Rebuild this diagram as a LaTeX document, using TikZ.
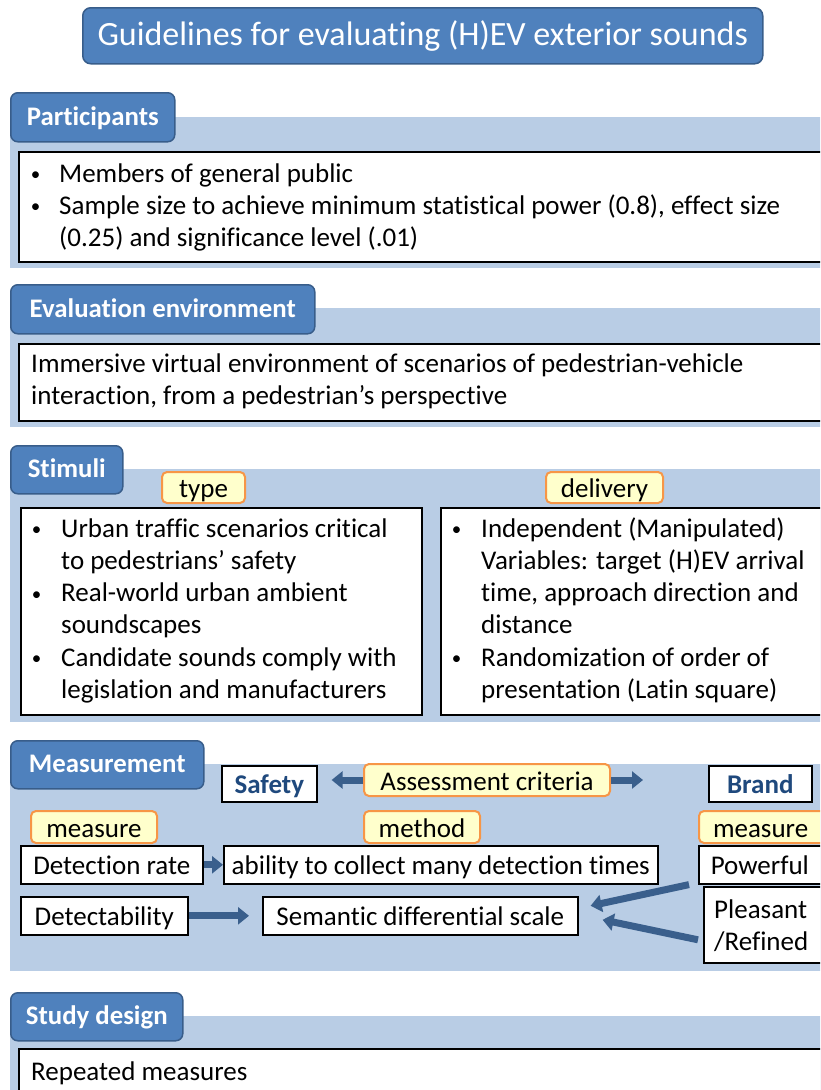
\documentclass[tikz,border=0pt]{standalone}
\usepackage{fontspec}
\setmainfont{Carlito}[Ligatures={NoCommon,NoContextual}]
\usetikzlibrary{arrows.meta,calc}

\definecolor{tabfill}{RGB}{79,129,189}
\definecolor{tabline}{RGB}{56,93,138}
\definecolor{bandfill}{RGB}{185,205,229}
\definecolor{labelfill}{RGB}{255,255,204}
\definecolor{labelline}{RGB}{247,150,70}
\definecolor{arrowblue}{RGB}{58,95,140}
\definecolor{critblue}{RGB}{31,73,125}

\newcommand{\bodyfont}{\fontsize{27pt}{32.3pt}\selectfont}
\newcommand{\headfont}{\fontsize{26.8pt}{30pt}\selectfont\bfseries}
\newcommand{\titlefont}{\fontsize{34pt}{38pt}\selectfont}
% small list bullet, centred in its column
\newcommand{\lbul}{\makebox[15pt][c]{\raisebox{1.5pt}{\fontsize{19pt}{19pt}\selectfont\textbullet}}}

\begin{document}
\begin{tikzpicture}[x=1pt,y=-1pt,
  titlebox/.style={draw=tabline, line width=1.5pt, fill=tabfill, rounded corners=8pt,
    text=white, font=\titlefont, anchor=north west, inner sep=0pt},
  tabbox/.style={draw=tabline, line width=1.5pt, fill=tabfill, rounded corners=7pt,
    text=white, font=\headfont, anchor=north west, inner sep=0pt,
    text height=20pt, text depth=4pt},
  bandbox/.style={fill=bandfill, anchor=north west, inner sep=0pt},
  whitebox/.style={draw=black, line width=1.6pt, fill=white, anchor=north west, inner sep=0pt,
    font=\bodyfont, text height=23pt, text depth=3pt},
  leftbox/.style={whitebox, align=left, inner xsep=12pt, text width=110pt},
  critbox/.style={whitebox, font=\bodyfont\bfseries, text=critblue},
  labelbox/.style={draw=labelline, line width=2pt, fill=labelfill, rounded corners=5pt,
    anchor=north west, inner sep=0pt, font=\bodyfont, text height=23pt, text depth=3pt},
  txt/.style={inner sep=0pt, anchor=base west, font=\bodyfont},
  blockarrow/.style={draw=arrowblue, line width=7pt,
    -{Triangle[width=17pt,length=11pt]}},
]
\useasboundingbox (0,0) rectangle (820,1090);
\clip (0,0) rectangle (820,1090);

% ---- title ----
\node[titlebox, minimum width=680pt, minimum height=56pt] (title) at (82,7)
  {Guidelines for evaluating (H)EV exterior sounds};

% ---- participants ----
\node[bandbox, minimum width=830pt, minimum height=151pt] (pband) at (10,117) {};
\node[tabbox, minimum width=164pt, minimum height=49pt] (ptab) at (10,92) {Participants};
\node[whitebox, minimum width=820pt, minimum height=110pt] (pbox) at (18,151) {};
\node[txt] (ptext) at (28,182) {\begin{tabular}[t]{@{}p{31pt}@{}l@{}}
  \lbul & Members of general public\\
  \lbul & Sample size to achieve minimum statistical power (0.8), effect size\\
        & (0.25) and significance level (.01)
  \end{tabular}};

% ---- evaluation environment ----
\node[bandbox, minimum width=830pt, minimum height=119pt] (eband) at (10,308) {};
\node[tabbox, minimum width=304pt, minimum height=49pt] (etab) at (10,284) {Evaluation environment};
\node[whitebox, minimum width=820pt, minimum height=77pt] (ebox) at (18,343) {};
\node[txt] (etext) at (31,372) {\begin{tabular}[t]{@{}l@{}}
  Immersive virtual environment of scenarios of pedestrian-vehicle\\
  interaction, from a pedestrian’s perspective
  \end{tabular}};

% ---- stimuli ----
\node[bandbox, minimum width=830pt, minimum height=253pt] (sband) at (10,469) {};
\node[tabbox, minimum width=112pt, minimum height=48pt] (stab) at (10,445) {Stimuli};
\node[labelbox, minimum width=83pt, minimum height=31pt] (type) at (161,471) {type};
\node[labelbox, minimum width=117pt, minimum height=31pt] (delivery) at (545,471) {delivery};
\node[whitebox, minimum width=401pt, minimum height=207pt] (sleft) at (20,507) {};
\node[whitebox, minimum width=400pt, minimum height=207pt] (sright) at (440,507) {};
\node[txt] (sltext) at (29,537) {\begin{tabular}[t]{@{}p{32pt}@{}l@{}}
  \lbul & Urban traffic scenarios critical\\
        & to pedestrians’ safety\\
  \lbul & Real-world urban ambient\\
        & soundscapes\\
  \lbul & Candidate sounds comply with\\
        & legislation and manufacturers
  \end{tabular}};
\node[txt] (srtext) at (449,537) {\begin{tabular}[t]{@{}p{32pt}@{}l@{}}
  \lbul & Independent (Manipulated)\\
        & Variables: target (H)EV arrival\\
        & time, approach direction and\\
        & distance\\
  \lbul & Randomization of order of\\
        & presentation (Latin square)
  \end{tabular}};

% ---- measurement ----
\node[bandbox, minimum width=830pt, minimum height=207pt] (mband) at (10,764) {};
\node[tabbox, minimum width=193pt, minimum height=48pt] (mtab) at (10,740) {Measurement};
\node[critbox, minimum width=95pt, minimum height=36pt] (safety) at (221,765) {Safety};
\node[labelbox, minimum width=246pt, minimum height=32pt] (assess) at (363,763) {Assessment criteria};
\node[critbox, minimum width=103pt, minimum height=36pt] (brand) at (708,765) {Brand};
\node[labelbox, minimum width=126pt, minimum height=32pt] (measureA) at (30,810) {measure};
\node[labelbox, minimum width=116pt, minimum height=32pt] (method) at (363,810) {method};
\node[labelbox, minimum height=32pt, align=left, inner xsep=14pt, text width=110pt] (measureB) at (698,810) {measure};
\node[whitebox, minimum width=182pt, minimum height=38pt] (detrate) at (20,845) {Detection rate};
\node[whitebox, minimum width=434pt, minimum height=38pt] (ability) at (223,845) {ability to collect many detection times};
\node[leftbox, minimum height=38pt] (powerful) at (698,845) {Powerful};
\node[whitebox, minimum width=167pt, minimum height=38pt] (detect) at (20,896) {Detectability};
\node[whitebox, minimum width=315pt, minimum height=38pt] (semantic) at (262,896) {Semantic differential scale};
\node[whitebox, minimum width=130pt, minimum height=76pt] (pleasant) at (703,886) {};
\node[txt] (pleasanttext) at (714,918) {\begin{tabular}[t]{@{}l@{}}
  Pleasant\\
  /Refined
  \end{tabular}};

\draw[blockarrow, shorten >=14pt] (assess.west) -- (assess.west -| safety.east);
\draw[blockarrow, shorten >=65pt] (assess.east) -- (assess.east -| brand.west);
\draw[blockarrow] (detrate.east) -- (ability.west);
\draw[blockarrow, shorten >=13pt] (detect.east) -- (semantic.west);
\draw[blockarrow] ($(powerful.south west)+(-9,0)$) -- ($(semantic.east)+(12,-10)$);
\draw[blockarrow] ($(pleasant.west)+(-5,15)$) -- ($(semantic.east)+(24,4)$);

% ---- study design ----
\node[bandbox, minimum width=830pt, minimum height=90pt] (dband) at (10,1016) {};
\node[tabbox, minimum width=172pt, minimum height=48pt] (dtab) at (10,992) {Study design};
\node[whitebox, minimum width=820pt, minimum height=60pt] (dbox) at (18,1048) {};
\node[txt] (dtext) at (31,1080) {Repeated measures};
\end{tikzpicture}
\end{document}
